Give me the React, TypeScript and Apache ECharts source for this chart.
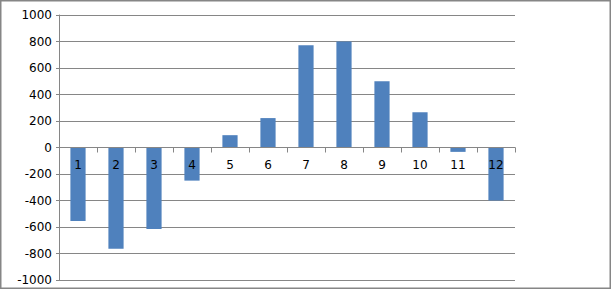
import React, { useEffect, useRef } from "react";
import * as echarts from "echarts";

const categories = ["1", "2", "3", "4", "5", "6", "7", "8", "9", "10", "11", "12"];
const values = [-555, -765, -615, -250, 93, 222, 772, 800, 500, 266, -33, -400];
const yMin = -1000;
const yMax = 1000;
const yInterval = 200;

const GRID_TOP = 15;
const GRID_BOTTOM = 9;
const CHART_H = 289;

export default function App() {
  const ref = useRef<HTMLDivElement>(null);
  useEffect(() => {
    if (!ref.current) return;
    const chart = echarts.init(ref.current, null, { renderer: "svg" });
    const font = "DejaVu Sans";
    const gridH = CHART_H - GRID_TOP - GRID_BOTTOM;
    const zeroOffset = -gridH * ((0 - yMin) / (yMax - yMin));
    chart.setOption({
      animation: false,
      backgroundColor: "#ffffff",
      textStyle: { fontFamily: font },
      graphic: [
        {
          type: "rect",
          shape: { x: 0.75, y: 0.75, width: 609.5, height: 287.5 },
          style: { fill: "none", stroke: "#868686", lineWidth: 1.5 },
          z: 100,
          silent: true,
        },
      ],
      grid: { left: 59, right: 96, top: GRID_TOP, bottom: GRID_BOTTOM, containLabel: false, outerBoundsMode: "none" },
      xAxis: {
        type: "category",
        data: categories,
        position: "bottom",
        offset: zeroOffset,
        z: 10,
        axisLine: { onZero: false, lineStyle: { color: "#868686", width: 1 } },
        axisTick: { show: true, length: 5, lineStyle: { color: "#868686" } },
        axisLabel: { color: "#000", fontSize: 12, fontFamily: font, margin: 11 },
        splitLine: { show: false },
      },
      yAxis: {
        type: "value",
        min: yMin,
        max: yMax,
        interval: yInterval,
        axisLine: { show: true, lineStyle: { color: "#868686", width: 1 } },
        axisTick: { show: true, length: 3, lineStyle: { color: "#868686" } },
        axisLabel: {
          color: "#000",
          fontSize: 12,
          fontFamily: font,
          margin: 7,
          formatter: (v: number) => String(v),
        },
        splitLine: { show: true, lineStyle: { color: "#868686", width: 1 } },
      },
      series: [
        {
          type: "bar",
          data: values,
          barWidth: "40%",
          itemStyle: { color: "#4F81BD" },
        },
      ],
    });
    return () => chart.dispose();
  }, []);
  return (
    <div
      ref={ref}
      style={{ position: "fixed", left: 0, top: 0, width: 611, height: 289 }}
    />
  );
}
